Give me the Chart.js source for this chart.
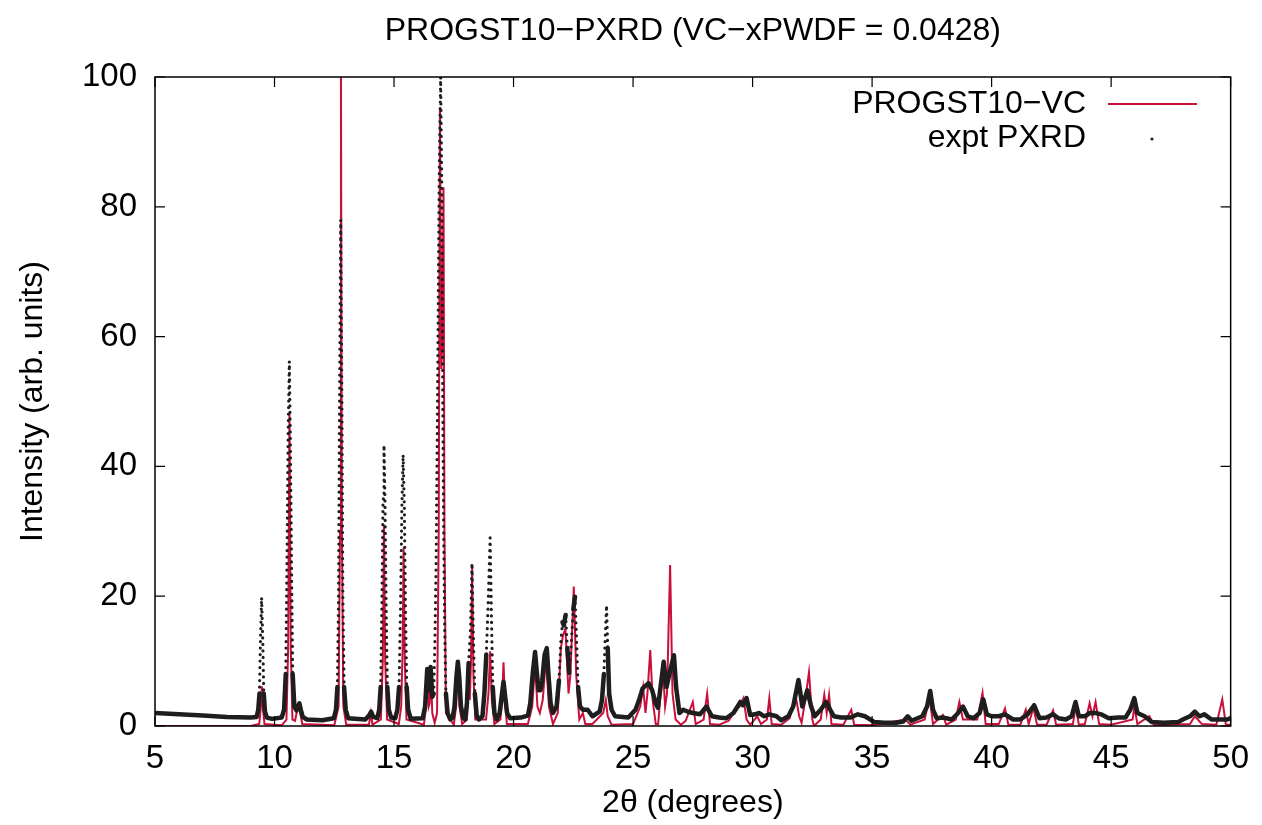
<!DOCTYPE html>
<html>
<head>
<meta charset="utf-8">
<script src="https://cdn.jsdelivr.net/npm/chart.js@4/dist/chart.umd.min.js"></script>
<style>
html,body{margin:0;padding:0;background:#fff;}
#wrap{width:1262px;height:825px;position:relative;}
</style>
</head>
<body>
<div id="wrap"><canvas id="c" width="1262" height="825"></canvas></div>
<script>
// ---- data ----
const titleText = "PROGST10\u2212PXRD (VC\u2212xPWDF = 0.0428)";
const xLabel = "2\u03b8 (degrees)";
const yLabel = "Intensity (arb. units)";
const seriesNames = ["PROGST10\u2212VC", "expt PXRD"];
const xTicks = [5,10,15,20,25,30,35,40,45,50];
const yTicks = [0,20,40,60,80,100];

// experimental pattern [2theta, intensity]
const exptPoints = [
[5.0,2.0],[6.0,1.8],[7.0,1.6],[8.0,1.4],[9.0,1.3],[9.25,1.4],[9.32,2.5],[9.37,5],[9.41,13],[9.46,19.8],[9.51,13],[9.55,5],[9.60,2.2],[9.68,1.3],
[9.9,1.1],[10.3,1.3],[10.40,2.5],[10.47,8],[10.52,25],[10.57,45],[10.62,56.2],[10.66,45],[10.71,25],[10.76,8],[10.83,3],[10.92,2.4],[10.98,3],[11.04,3.5],[11.10,2.5],[11.18,1.4],[11.35,1.0],
[12.0,0.9],[12.48,1.2],[12.57,2.5],[12.63,6],[12.68,20],[12.72,50],[12.77,78],[12.82,50],[12.86,20],[12.91,6],[12.98,2.5],[13.08,1.2],[13.8,1.0],[13.95,1.6],[14.04,2.2],[14.13,1.4],
[14.3,1.2],[14.38,2.5],[14.44,6],[14.49,18],[14.54,35],[14.58,43.3],[14.62,35],[14.67,18],[14.72,6],[14.78,2.5],[14.88,1.3],[15.05,1.2],[15.14,2.5],[15.21,6],[15.27,18],[15.33,34],[15.38,41.8],[15.43,34],[15.48,18],[15.53,6],[15.59,2.5],[15.7,1.1],
[16.2,1.2],[16.30,3],[16.39,8.8],[16.46,5.5],[16.53,9.1],[16.60,4.5],[16.66,5],[16.71,13],[16.76,25],[16.82,50],[16.89,85],[16.95,100],[17.0,82],[17.04,50],[17.08,29],[17.12,15],[17.17,5],[17.24,2],[17.35,1.0],
[17.45,1.3],[17.53,3],[17.61,7.5],[17.67,9.9],[17.73,7.5],[17.80,3],[17.9,1.2],[17.98,1.0],[18.05,3.5],[18.12,9.7],[18.20,15],[18.26,25.1],[18.32,14],[18.38,5],[18.46,1.6],[18.55,1.0],
[18.70,1.5],[18.78,5],[18.86,11],[18.94,19],[19.02,29],[19.07,18],[19.13,6],[19.2,2],[19.3,1.0],[19.42,2],[19.50,4.5],[19.58,6.8],[19.65,4.5],[19.73,2],[19.85,1.2],[20.3,1.3],
[20.6,1.6],[20.70,3.5],[20.80,8],[20.9,11.4],[20.98,8],[21.05,5.5],[21.12,5.5],[21.2,7],[21.3,11],[21.39,12],[21.46,8],[21.55,3.5],[21.65,2],[21.8,3],[21.9,7],[21.98,13],[22.05,16],[22.1,15.5],[22.18,17.1],
[22.25,12],[22.33,8.2],[22.42,13],[22.5,18],[22.57,19.9],[22.63,14],[22.70,6],[22.78,3],[22.9,2.5],[23.1,2.5],[23.3,1.5],[23.6,2.2],[23.70,4],[23.78,8],[23.84,14],[23.89,18.6],
[23.94,12],[24.0,5],[24.1,2.5],[24.25,1.5],[24.8,1.3],[25.1,2.5],[25.25,4],[25.4,5.8],[25.65,6.6],[25.8,5.5],[25.95,3.5],[26.04,2.8],[26.15,6],[26.28,9.9],
[26.4,6],[26.55,8.5],[26.71,10.9],[26.8,6],[26.94,2],[27.1,2.5],[27.3,2.2],[27.5,2],[27.8,1.8],[28.07,3],[28.3,1.5],[28.6,1.3],[28.9,1.2],
[29.2,2],[29.49,3.7],[29.6,3.2],[29.75,4.3],[29.9,1.7],[30.1,1.8],[30.28,2],[30.49,1.5],[30.7,1.8],[31.0,1.5],[31.2,0.9],[31.5,1.5],[31.7,3],
[31.92,7.1],[32.08,3],[32.29,5.5],[32.45,3],[32.6,1.5],[32.85,2.5],[33.08,3.7],[33.25,2.5],[33.4,1.5],[33.7,1.3],[34.1,1.3],[34.4,1.8],[34.7,1.5],
[35.1,0.6],[35.5,0.5],[36.0,0.5],[36.3,0.7],[36.49,1.5],[36.65,0.8],[36.9,1.2],[37.1,1.5],[37.3,3],[37.43,5.4],[37.55,2.5],[37.7,1.2],[38.0,1.3],
[38.33,1],[38.6,2],[38.8,3],[39.0,1.5],[39.24,1.2],[39.5,2],[39.65,4.1],[39.8,1.8],[40.0,1.5],[40.3,1.5],[40.56,1.8],[40.9,1],[41.2,1],[41.5,1.8],
[41.78,3.2],[42.0,1.2],[42.3,1.3],[42.57,1.8],[42.8,1.2],[43.1,1],[43.35,1.5],[43.51,3.7],[43.65,1.5],[43.9,1.5],[44.1,2],[44.35,2],[44.58,1.8],
[44.9,1.2],[45.3,1.3],[45.6,1.3],[45.8,2.5],[45.97,4.3],[46.1,2],[46.4,1.5],[46.7,0.6],[47.2,0.5],[47.8,0.6],[48.0,1],[48.3,1.5],[48.5,2.2],
[48.7,1.5],[48.9,1.8],[49.2,1],[49.5,1],[49.86,1],[50.0,1.2]
];

// calculated pattern [2theta, intensity]
const calcPoints = [
[5.0,0],[9.0,0],[9.36,0.3],[9.42,2.5],[9.47,6.1],[9.52,2.5],[9.58,0.3],[10.3,0.1],[10.5,1],[10.57,12],[10.625,48.2],[10.68,12],[10.75,1],
[10.86,0.8],[10.95,2.5],[11.02,3],[11.1,1.5],[11.16,0.3],[12.5,0.1],[12.68,3],[12.74,30],[12.78,100],[12.82,30],[12.88,3],[13.0,0.2],[13.95,0.2],[14.03,2],[14.1,0.2],
[14.45,1],[14.53,10],[14.58,31],[14.63,10],[14.71,1],[15.2,0.3],[15.30,3],[15.36,12],[15.40,27.5],[15.45,10],[15.52,1],[16.25,0.2],[16.34,3],
[16.39,8.5],[16.45,3],[16.49,3.5],[16.54,8.5],[16.6,2],[16.7,0.5],[16.80,2],[16.87,30],[16.92,95],[16.98,55],[17.02,60],[17.07,83],[17.11,30],[17.17,2],[17.5,0.2],[17.60,3],
[17.67,9.9],[17.74,3],[17.85,0.3],[18.05,1],[18.12,7],[18.17,4],[18.22,10],[18.27,24.8],[18.32,8],[18.40,1],[18.85,1],[18.95,5],[19.02,11.5],[19.09,4],[19.2,0.3],
[19.45,1],[19.52,4],[19.58,9.8],[19.64,4],[19.72,0.3],[20.6,0.3],[20.78,3],[20.9,9.5],[21.0,3],[21.1,2],[21.22,4],[21.36,10.5],[21.48,3],
[21.65,0.3],[21.85,2],[21.98,12],[22.07,14],[22.17,15],[22.3,5],[22.38,8],[22.52,21.5],[22.62,8],[22.75,1],[22.9,2],[23.0,0.3],[23.3,0.3],
[23.75,2],[23.86,4],[23.94,1.5],[24.1,0.2],[25.0,0.3],[25.3,3],[25.42,6],[25.52,2],[25.6,5],[25.72,11.7],[25.82,4],[25.95,0.3],[26.05,0.3],
[26.15,5],[26.24,9.5],[26.34,3],[26.42,5],[26.55,24.8],[26.65,5],[26.78,1],[27.0,0.2],[27.2,0.8],[27.5,3.7],[27.62,0.3],[27.95,1],[28.1,5],
[28.22,0.3],[28.6,0.2],[29.0,0.8],[29.3,2.5],[29.45,3],[29.62,4.3],[29.75,1],[29.9,0.2],[30.2,1.5],[30.35,0.3],[30.6,1],[30.7,4.3],[30.8,0.3],
[31.2,0.2],[31.55,1.2],[31.8,4.7],[31.95,1.5],[32.05,0.5],[32.2,4],[32.36,8.3],[32.5,1],[32.57,0],[32.85,1],[33.0,4.8],[33.1,2],[33.2,4.8],
[33.3,0.3],[33.8,0.2],[34.13,2.5],[34.25,0.2],[35.0,0.1],[36.4,1],[36.6,0.2],[37.2,1],[37.4,4.5],[37.55,0.3],[37.96,1.7],[38.1,0.2],[38.5,1],
[38.65,3.7],[38.8,1],[39.4,1],[39.62,5.1],[39.75,0.3],[40.3,0.3],[40.56,2.7],[40.7,0.2],[41.2,0.2],[41.43,2.5],[41.55,0.3],[41.75,2.8],[41.9,0.2],
[42.3,0.2],[42.57,2.4],[42.7,0.2],[43.4,0.3],[43.52,3],[43.65,0.2],[43.9,0.3],[44.1,3.5],[44.22,1.5],[44.35,3.7],[44.5,0.3],[45.0,0.2],[45.9,1],
[45.97,3],[46.1,0.3],[46.6,1.5],[46.8,0.1],[48.3,0.3],[48.5,1.5],[48.8,0.3],[49.4,0.2],[49.65,4.1],[49.8,0.2],[50.0,0.2]
];

// ---- styles ----
const FONT = "'Liberation Sans', Arial, Helvetica, sans-serif";
const FS = 32;
const TICK_FS = 33;
const RED = "#c8103a";
const BLACK = "#1e1e1e";

const toXY = arr => arr.map(p => ({x: p[0], y: p[1]}));

// steep flanks of tall experimental peaks are drawn as separate dots
function steep(ctx) {
  const dx = Math.abs(ctx.p1.x - ctx.p0.x), dy = Math.abs(ctx.p1.y - ctx.p0.y);
  const topY = Math.min(ctx.p0.y, ctx.p1.y);
  const lim = ctx.chart.scales.y.getPixelForValue(12.5);
  return topY < lim && dy > 15 && dy > 4 * dx;
}

const framePlugin = {
  id: 'frame',
  afterDraw(chart) {
    const {ctx, chartArea: a, scales} = chart;
    ctx.save();
    ctx.strokeStyle = '#000';
    ctx.lineWidth = 1.5;
    ctx.strokeRect(a.left, a.top, a.right - a.left, a.bottom - a.top);
    ctx.lineWidth = 1.2;
    ctx.beginPath();
    const L = 10;
    xTicks.forEach(v => {
      const px = scales.x.getPixelForValue(v);
      ctx.moveTo(px, a.bottom); ctx.lineTo(px, a.bottom - L);
      ctx.moveTo(px, a.top); ctx.lineTo(px, a.top + L);
    });
    yTicks.forEach(v => {
      const py = scales.y.getPixelForValue(v);
      ctx.moveTo(a.left, py); ctx.lineTo(a.left + L, py);
      ctx.moveTo(a.right, py); ctx.lineTo(a.right - L, py);
    });
    ctx.stroke();

    ctx.fillStyle = '#000';
    ctx.font = FS + 'px ' + FONT;
    ctx.textBaseline = 'middle';
    ctx.textAlign = 'center';
    ctx.fillText(titleText, (a.left + a.right) / 2, 31);
    ctx.fillText(xLabel, (a.left + a.right) / 2, 803);
    ctx.save();
    ctx.translate(33, (a.top + a.bottom) / 2);
    ctx.rotate(-Math.PI / 2);
    ctx.fillText(yLabel, 0, 0);
    ctx.restore();

    // legend
    ctx.textAlign = 'right';
    ctx.fillText(seriesNames[0], 1086, 104);
    ctx.fillText(seriesNames[1], 1086, 138);
    ctx.strokeStyle = RED;
    ctx.lineWidth = 2;
    ctx.beginPath();
    ctx.moveTo(1108, 104); ctx.lineTo(1197, 104);
    ctx.stroke();
    ctx.fillStyle = BLACK;
    ctx.beginPath();
    ctx.arc(1152, 139, 1.6, 0, Math.PI * 2);
    ctx.fill();
    ctx.restore();
  }
};

new Chart(document.getElementById('c'), {
  type: 'line',
  data: {
    datasets: [
      {
        label: seriesNames[1],
        data: toXY(exptPoints),
        borderColor: BLACK,
        borderWidth: 4.5,
        borderCapStyle: 'round',
        borderJoinStyle: 'round',
        pointRadius: 0,
        tension: 0,
        order: 0,
        segment: {
          borderDash: ctx => steep(ctx) ? [0, 6.5] : undefined,
          borderWidth: ctx => steep(ctx) ? 3.2 : undefined
        }
      },
      {
        label: seriesNames[0],
        data: toXY(calcPoints),
        borderColor: RED,
        borderWidth: 2,
        pointRadius: 0,
        tension: 0,
        order: 1
      }
    ]
  },
  options: {
    responsive: false,
    animation: false,
    devicePixelRatio: 1,
    layout: {padding: {top: 77, right: 27, bottom: 0, left: 0}},
    plugins: {legend: {display: false}, tooltip: {enabled: false}, title: {display: false}},
    scales: {
      x: {
        type: 'linear', min: 5, max: 50,
        afterBuildTicks: s => { s.ticks = xTicks.map(v => ({value: v})); },
        afterFit: s => { s.height = 99; },
        grid: {display: false, drawTicks: false},
        border: {display: false},
        ticks: {color: '#000', font: {family: FONT, size: TICK_FS}, padding: 13, maxRotation: 0, autoSkip: false}
      },
      y: {
        type: 'linear', min: 0, max: 100,
        afterBuildTicks: s => { s.ticks = yTicks.map(v => ({value: v})); },
        afterFit: s => { s.width = 155; },
        grid: {display: false, drawTicks: false},
        border: {display: false},
        ticks: {color: '#000', font: {family: FONT, size: TICK_FS}, padding: 18, autoSkip: false}
      }
    }
  },
  plugins: [framePlugin]
});
</script>
</body>
</html>
